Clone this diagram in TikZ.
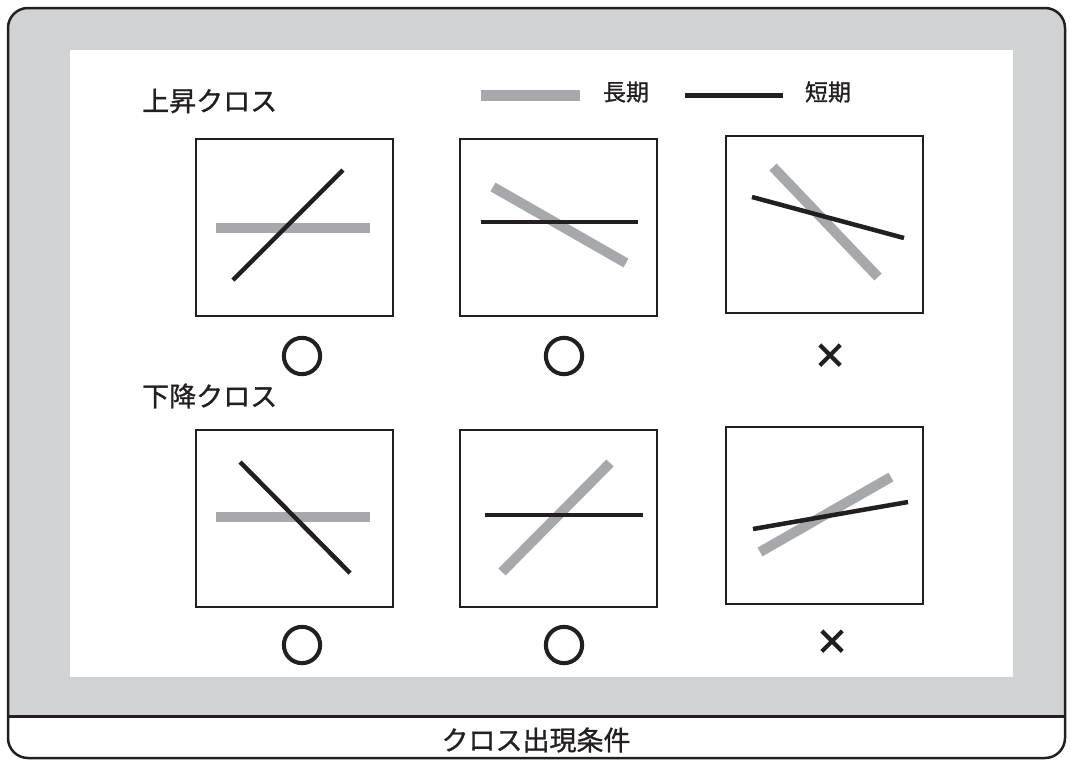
\documentclass[tikz,border=0pt]{standalone}
\usepackage{fontspec}
\setmainfont{Noto Sans CJK JP}[FakeBold=1]
\newfontfamily\markfont{Noto Sans CJK JP}[FakeBold=6]
\definecolor{bggray}{HTML}{D1D2D4}
\definecolor{longgray}{HTML}{A7A8AB}
\definecolor{ink}{HTML}{231F20}
\tikzset{
  panel/.style={draw=ink, line width=2pt, fill=white, minimum width=197pt, minimum height=177pt, inner sep=0pt},
  longline/.style={draw=longgray, line width=10pt},
  shortline/.style={draw=ink, line width=4.5pt},
  title/.style={font=\fontsize{27}{27}\selectfont, text=ink, inner sep=0pt},
  legtext/.style={font=\fontsize{23}{23}\selectfont, text=ink, inner sep=0pt},
  okmark/.style={font=\markfont\fontsize{42}{42}\selectfont, text=ink, inner sep=0pt},
  ngmark/.style={font=\markfont\fontsize{32}{32}\selectfont, text=ink, inner sep=0pt}
}
\begin{document}
\begin{tikzpicture}[x=1pt,y=-1pt]
\useasboundingbox (0,0) rectangle (1070,761);
% outer frame
\begin{scope}
\clip[rounded corners=20pt] (8,8) rectangle (1065,758);
\fill[bggray] (8,8) rectangle (1065,716);
\fill[white] (8,716) rectangle (1065,758);
\end{scope}
\fill[white] (70,50) rectangle (1013,677);
\draw[ink, line width=2.5pt, rounded corners=20pt] (8,8) rectangle (1065,758);
\draw[ink, line width=3pt] (8,716) -- (1065,716);
\node[title] (cap) at (536,740) {クロス出現条件};
% headings
\node[title, anchor=west] (up) at (142,101) {上昇クロス};
\node[title, anchor=west] (down) at (142,396) {下降クロス};
% legend
\draw[longgray, line width=11pt] (481,95.5) -- (580,95.5);
\node[legtext] (lgl) at (626,92) {長期};
\draw[ink, line width=5pt] (685,95.5) -- (783,95.5);
\node[legtext] (lgs) at (828,92) {短期};
% panels top
\node[panel] (p1) at (294,227) {};
\node[panel] (p2) at (558.5,227) {};
\node[panel] (p3) at (824,224.5) {};
\draw[longline] (216,228) -- (370,228);
\draw[shortline] (233,280) -- (343,170);
\draw[longline] (493,187) -- (626,263);
\draw[shortline] (481,222) -- (638,222);
\draw[longline] (773,167) -- (878,277);
\draw[shortline] (752,197) -- (904,238);
% panels bottom
\node[panel] (p4) at (294,518) {};
\node[panel] (p5) at (558.5,518) {};
\node[panel] (p6) at (824.5,515.5) {};
\draw[longline] (216,517) -- (370,517);
\draw[shortline] (240,462) -- (350,573);
\draw[longline] (502,572) -- (610,463);
\draw[shortline] (485,515) -- (643,515);
\draw[longline] (760,552) -- (891,477);
\draw[shortline] (753,529) -- (908,502);
% marks
\node[okmark] (m1) at (302,356) {○};
\node[okmark] (m2) at (564,356) {○};
\node[ngmark] (m3) at (830,356) {×};
\node[okmark] (m4) at (302,645) {○};
\node[okmark] (m5) at (564,645) {○};
\node[ngmark] (m6) at (832,642) {×};
\end{tikzpicture}
\end{document}
